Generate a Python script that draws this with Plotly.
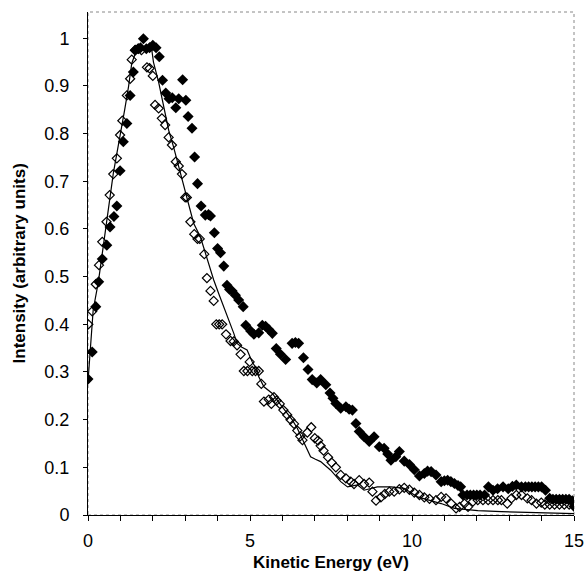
import plotly.graph_objects as go

# Filled diamonds
filled_x = [0.00, 0.13, 0.24, 0.33, 0.44, 0.58, 0.68, 0.80, 0.89, 0.99, 1.09, 1.20, 1.30, 1.40, 1.46,
            1.55, 1.62, 1.71, 1.80, 1.90, 2.00, 2.10, 2.20, 2.30, 2.40, 2.50, 2.60, 2.71, 2.80, 2.92,
            3.02, 3.09, 3.21, 3.29, 3.38, 3.49, 3.62, 3.72, 3.78, 3.90, 4.00, 4.09, 4.19, 4.29, 4.37,
            4.45, 4.55, 4.65, 4.79, 4.87, 5.02, 5.12, 5.27, 5.38, 5.48, 5.58, 5.69, 5.81, 5.94, 6.10,
            6.30, 6.40, 6.50, 6.65, 6.79, 6.92, 7.06, 7.18, 7.34, 7.47, 7.56, 7.65, 7.80, 7.96, 8.06,
            8.16, 8.27, 8.37, 8.52, 8.68, 8.83, 8.99, 9.14, 9.25, 9.35, 9.50, 9.61, 9.76, 9.92, 10.07,
            10.23, 10.38, 10.48, 10.59, 10.74, 10.90, 11.00, 11.10, 11.20, 11.31, 11.42, 11.50, 11.57,
            11.70, 11.80, 11.90, 12.00, 12.10, 12.24, 12.36, 12.50, 12.64, 12.81, 12.97, 13.10, 13.22,
            13.38, 13.50, 13.60, 13.70, 13.80, 13.90, 14.00, 14.12, 14.25, 14.35, 14.45, 14.55, 14.65,
            14.75, 14.85, 14.95, 15.00]
filled_y = [0.285, 0.342, 0.437, 0.489, 0.537, 0.566, 0.604, 0.626, 0.648, 0.722, 0.783, 0.821, 0.880, 0.929, 0.975,
            0.978, 0.980, 0.999, 0.978, 0.980, 0.985, 0.980, 0.961, 0.912, 0.885, 0.873, 0.875, 0.854, 0.873, 0.913,
            0.870, 0.836, 0.811, 0.751, 0.695, 0.648, 0.629, 0.630, 0.627, 0.592, 0.559, 0.550, 0.522, 0.482, 0.473,
            0.470, 0.461, 0.451, 0.437, 0.398, 0.386, 0.379, 0.382, 0.398, 0.396, 0.389, 0.381, 0.349, 0.337, 0.326,
            0.360, 0.362, 0.360, 0.330, 0.305, 0.284, 0.277, 0.284, 0.273, 0.256, 0.245, 0.234, 0.224, 0.227, 0.222,
            0.220, 0.192, 0.175, 0.164, 0.154, 0.164, 0.143, 0.140, 0.128, 0.115, 0.122, 0.133, 0.113, 0.106, 0.095,
            0.082, 0.087, 0.092, 0.091, 0.084, 0.070, 0.072, 0.073, 0.070, 0.066, 0.062, 0.059, 0.042,
            0.042, 0.042, 0.042, 0.042, 0.042, 0.042, 0.059, 0.052, 0.055, 0.059, 0.055, 0.060, 0.063,
            0.059, 0.059, 0.059, 0.059, 0.059, 0.059, 0.059, 0.052, 0.035, 0.033, 0.033, 0.033, 0.033,
            0.033, 0.033, 0.030, 0.018]

# Open diamonds
open_x = [0.01, 0.13, 0.24, 0.34, 0.44, 0.57, 0.67, 0.78, 0.89, 0.99, 1.06, 1.20, 1.30, 1.35, 1.45,
          1.55, 1.65, 1.82, 1.90, 2.00, 2.07, 2.18, 2.28, 2.38, 2.49, 2.59, 2.71, 2.80, 2.90, 3.00,
          3.05, 3.16, 3.28, 3.38, 3.45, 3.59, 3.67, 3.78, 3.88, 3.96, 4.05, 4.14, 4.26, 4.40, 4.50,
          4.60, 4.71, 4.81, 4.92, 4.99, 5.07, 5.17, 5.27, 5.35, 5.43, 5.58, 5.66, 5.74, 5.82, 5.92,
          6.03, 6.15, 6.25, 6.36, 6.46, 6.55, 6.62, 6.77, 6.89, 7.00, 7.10, 7.18, 7.27, 7.41, 7.52,
          7.65, 7.80, 7.96, 8.11, 8.21, 8.37, 8.52, 8.68, 8.78, 8.89, 9.04, 9.16, 9.30, 9.45, 9.61,
          9.76, 9.92, 10.07, 10.23, 10.38, 10.54, 10.74, 10.90, 11.05, 11.21, 11.36, 11.47, 11.62, 11.73,
          11.88, 12.03, 12.19, 12.35, 12.50, 12.65, 12.76, 12.94, 13.07, 13.22, 13.38, 13.56, 13.69,
          13.84, 13.99, 14.10, 14.25, 14.40, 14.55, 14.70, 14.85, 15.00]
open_y = [0.400, 0.427, 0.484, 0.524, 0.573, 0.615, 0.671, 0.715, 0.748, 0.797, 0.827, 0.880, 0.915, 0.955, 0.975,
          0.978, 0.975, 0.939, 0.937, 0.921, 0.860, 0.853, 0.832, 0.818, 0.792, 0.776, 0.741, 0.732, 0.715, 0.666,
          0.666, 0.615, 0.589, 0.579, 0.579, 0.547, 0.497, 0.470, 0.449, 0.400, 0.400, 0.400, 0.379, 0.365, 0.364,
          0.356, 0.337, 0.302, 0.302, 0.321, 0.302, 0.302, 0.302, 0.275, 0.238, 0.242, 0.233, 0.247, 0.240, 0.233,
          0.220, 0.210, 0.200, 0.191, 0.177, 0.165, 0.157, 0.173, 0.184, 0.161, 0.156, 0.145, 0.135, 0.121, 0.110,
          0.100, 0.084, 0.077, 0.070, 0.065, 0.073, 0.065, 0.068, 0.049, 0.030, 0.037, 0.044, 0.049, 0.049, 0.054,
          0.057, 0.053, 0.047, 0.042, 0.037, 0.034, 0.031, 0.038, 0.035, 0.024, 0.014, 0.017, 0.024, 0.017,
          0.028, 0.031, 0.031, 0.031, 0.031, 0.031, 0.031, 0.024, 0.035, 0.042, 0.042, 0.035, 0.031,
          0.024, 0.026, 0.022, 0.022, 0.022, 0.022, 0.022, 0.022, 0.024]

# Solid line
line_x = [0.00, 0.06, 0.16, 0.32, 0.42, 0.50, 0.58, 0.68, 0.78, 0.89, 1.01, 1.13, 1.25, 1.35, 1.46,
          1.61, 1.82, 1.92, 1.97, 2.02, 2.18, 2.33, 2.49, 2.64, 2.80, 2.95, 3.06, 3.26, 3.47, 3.62,
          3.78, 3.88, 4.03, 4.19, 4.34, 4.50, 4.60, 4.75, 4.91, 5.07, 5.22, 5.27, 5.43, 5.69, 5.90,
          6.10, 6.30, 6.46, 6.67, 6.87, 7.02, 7.18, 7.49, 7.80, 8.01, 8.32, 8.52, 8.93, 9.35, 9.76,
          10.17, 10.59, 10.90, 11.31, 12.03, 12.76, 13.58, 15.00]
line_y = [0.280, 0.339, 0.430, 0.489, 0.538, 0.573, 0.618, 0.672, 0.716, 0.758, 0.800, 0.849, 0.898, 0.947, 0.968,
          0.975, 0.982, 0.990, 0.975, 0.950, 0.908, 0.856, 0.807, 0.772, 0.730, 0.688, 0.660, 0.612, 0.583, 0.549,
          0.514, 0.493, 0.465, 0.437, 0.409, 0.381, 0.360, 0.352, 0.346, 0.321, 0.304, 0.290, 0.269, 0.255, 0.235,
          0.217, 0.200, 0.182, 0.150, 0.122, 0.117, 0.112, 0.094, 0.070, 0.059, 0.063, 0.052, 0.059, 0.059, 0.056,
          0.038, 0.030, 0.024, 0.014, 0.009, 0.007, 0.005, 0.003]

x_tickvals = list(range(0, 16))
x_ticktext = [str(v) if v % 5 == 0 else "" for v in x_tickvals]
y_tickvals = [0, 0.1, 0.2, 0.3, 0.4, 0.5, 0.6, 0.7, 0.8, 0.9, 1]
y_ticktext = ["0", "0.1", "0.2", "0.3", "0.4", "0.5", "0.6", "0.7", "0.8", "0.9", "1"]
x_title = "Kinetic Energy (eV)"
y_title = "Intensity (arbitrary units)"

font_family = "Liberation Sans, Arial, sans-serif"

fig = go.Figure()
fig.add_trace(go.Scatter(x=line_x, y=line_y, mode="lines",
                         line=dict(color="black", width=1.2), showlegend=False))
fig.add_trace(go.Scatter(x=open_x, y=open_y, mode="markers",
                         marker=dict(symbol="diamond-open", size=7, color="black",
                                     line=dict(color="black", width=1.2)),
                         showlegend=False))
fig.add_trace(go.Scatter(x=filled_x, y=filled_y, mode="markers",
                         marker=dict(symbol="diamond", size=8.5, color="black",
                                     line=dict(width=0)),
                         showlegend=False))

fig.update_layout(
    width=587, height=577,
    margin=dict(l=88, r=13, t=12, b=62, autoexpand=False),
    paper_bgcolor="white", plot_bgcolor="white",
    font=dict(family=font_family, size=18, color="black"),
    xaxis=dict(range=[0, 15], tickvals=x_tickvals, ticktext=x_ticktext,
               ticks="outside", ticklen=5, tickcolor="black", tickwidth=1,
               showline=True, linecolor="black", linewidth=1,
               showgrid=False, zeroline=False, automargin=False,
               ticklabelstandoff=4,
               tickfont=dict(size=18)),
    yaxis=dict(range=[0, 1.055], tickvals=y_tickvals, ticktext=y_ticktext,
               ticks="outside", ticklen=4, tickcolor="black", tickwidth=1,
               showline=True, linecolor="black", linewidth=1,
               showgrid=False, zeroline=False, automargin=False,
               ticklabelstandoff=10,
               tickfont=dict(size=18)),
    shapes=[dict(type="rect", xref="paper", yref="paper", x0=0, y0=0, x1=1, y1=1,
                 line=dict(color="#888888", width=1, dash="dot"), layer="below")],
    annotations=[
        dict(text="<b>" + x_title + "</b>", xref="paper", yref="paper", x=0.5, y=-0.095,
             xanchor="center", yanchor="middle", showarrow=False, font=dict(size=17)),
        dict(text="<b>" + y_title + "</b>", xref="paper", yref="paper", x=-0.14, y=0.5,
             xanchor="center", yanchor="middle", textangle=-90, showarrow=False, font=dict(size=17)),
    ],
)

fig.write_html("out.html", config={"displayModeBar": False},
               post_script="document.body.style.margin='0px';document.body.style.overflow='hidden';")
